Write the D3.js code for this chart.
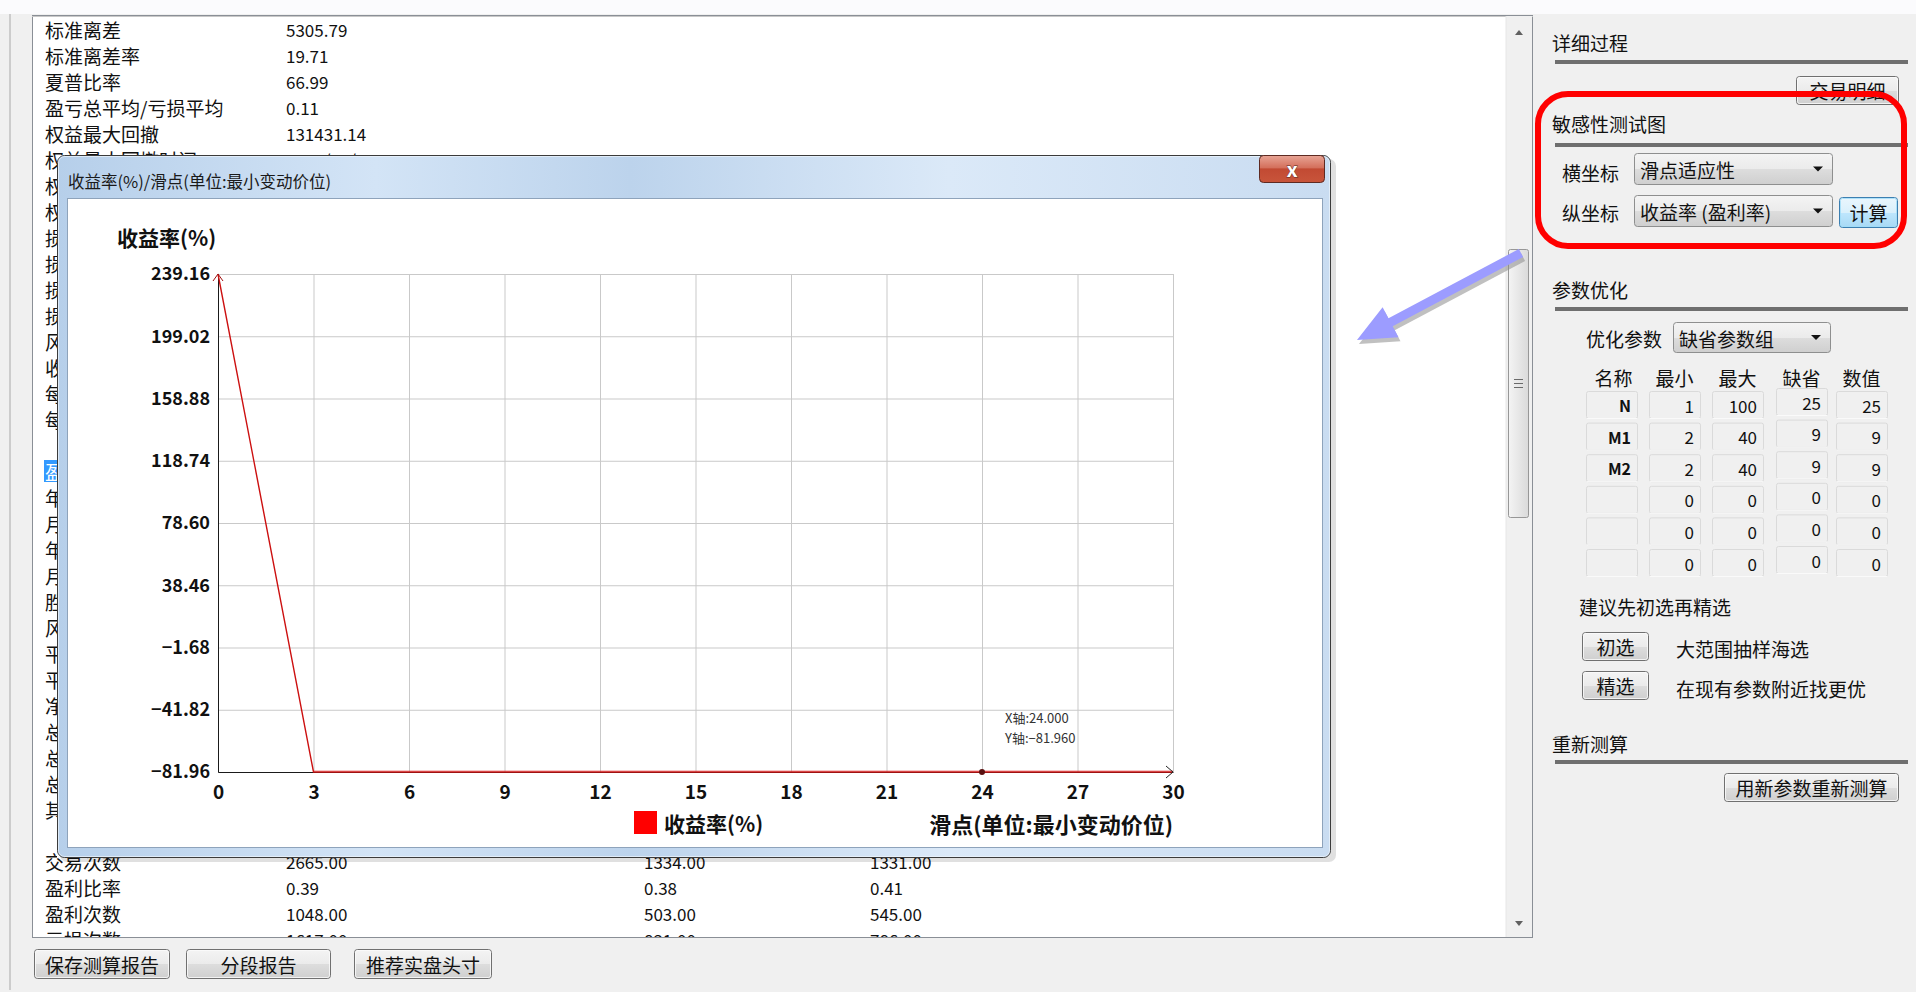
<!DOCTYPE html>
<html><head><meta charset="utf-8">
<script src="https://cdn.jsdelivr.net/npm/d3@7"></script>
<style>
body{margin:0;background:#f0f0f0;overflow:hidden}
svg{display:block}
text{font-family:"Noto Sans CJK SC","Noto Sans",sans-serif}
</style></head><body>
<svg id="c" width="1916" height="992"></svg>
<script>
// ---------- chart data ----------
const slipPoints = [0, 3, 6, 9, 12, 15, 18, 21, 24, 27, 30];
const yieldRate = [239.16, -81.96, -81.96, -81.96, -81.96, -81.96, -81.96, -81.96, -81.96, -81.96, -81.96];
const yTickValues = [239.16, 199.02, 158.88, 118.74, 78.60, 38.46, -1.68, -41.82, -81.96];
const xTickValues = [0, 3, 6, 9, 12, 15, 18, 21, 24, 27, 30];
const cursorX = [24];
const cursorY = [-81.96];
const chartTitle = "收益率(%)/滑点(单位:最小变动价位)";
const yTitle = "收益率(%)";
const xTitle = "滑点(单位:最小变动价位)";
const legendLabels = ["收益率(%)"];

// ---------- report panel text ----------
const reportLabels = ["标准离差","标准离差率","夏普比率","盈亏总平均/亏损平均","权益最大回撤","权益最大回撤时间"];
const reportValues = ["5305.79","19.71","66.99","0.11","131431.14","2013/06/24 09:15"];
const hiddenRowInitials = ["权","权","损","损","损","损","风","收","每","每","","盈","年","月","年","月","胜","风","平","平","净","总","总","总","其"];
const bottomLabels = ["交易次数","盈利比率","盈利次数","亏损次数"];
const bottomAll = ["2665.00","0.39","1048.00","1617.00"];
const bottomLong = ["1334.00","0.38","503.00","831.00"];
const bottomShort = ["1331.00","0.41","545.00","786.00"];
const footerButtons = ["保存测算报告","分段报告","推荐实盘头寸"];

// ---------- parameter table ----------
const paramHeaders = ["名称","最小","最大","缺省","数值"];
const paramNames = ["N","M1","M2","","",""];
const paramMin = [1,2,2,0,0,0];
const paramMax = [100,40,40,0,0,0];
const paramDefault = [25,9,9,0,0,0];
const paramValue = [25,9,9,0,0,0];

const svg = d3.select("#c");
const defs = svg.append("defs");

function grad(id, stops, vertical=true){
  const g = defs.append("linearGradient").attr("id", id)
    .attr("x1",0).attr("y1",0).attr("x2", vertical?0:1).attr("y2", vertical?1:0);
  stops.forEach(s=>g.append("stop").attr("offset",s[0]).attr("stop-color",s[1]));
}
grad("btn", [[0,"#f4f4f4"],[0.5,"#ebebeb"],[0.51,"#dddddd"],[1,"#cfcfcf"]]);
grad("btnBlue", [[0,"#eaf6fd"],[0.5,"#d9f0fc"],[0.51,"#bee6fd"],[1,"#a7d9f5"]]);
grad("frame", [[0,"#b6cfea"],[0.25,"#d3e4f6"],[0.45,"#bcd3ec"],[0.7,"#dbe9f8"],[1,"#c9dcf1"]], false);
grad("closeBtn", [[0,"#e8a596"],[0.45,"#d4705c"],[0.5,"#c24a33"],[1,"#c8553b"]]);
grad("thumb", [[0,"#f4f4f4"],[1,"#dadada"]], false);

// top strip
svg.append("rect").attr("x",0).attr("y",0).attr("width",1916).attr("height",14).attr("fill","#fbfbfd");
svg.append("line").attr("x1",10).attr("x2",10).attr("y1",14).attr("y2",990).attr("stroke","#a8a8a8");

// ---------- left report panel ----------
svg.append("rect").attr("x",32.5).attr("y",15.5).attr("width",1500).attr("height",922)
  .attr("fill","#ffffff").attr("stroke","#8a8f96");
svg.append("line").attr("x1",32).attr("x2",1533).attr("y1",16.5).attr("y2",16.5).attr("stroke","#c8c8c8");

const clip = defs.append("clipPath").attr("id","panelClip");
clip.append("rect").attr("x",33).attr("y",16).attr("width",1472).attr("height",139);
clip.append("rect").attr("x",33).attr("y",155).attr("width",24).attr("height",780);
clip.append("rect").attr("x",33).attr("y",858).attr("width",1472).attr("height",79);

const rowY = i => 29 + i*26;
const panelText = svg.append("g").attr("clip-path","url(#panelClip)");
reportLabels.forEach((t,i)=>{
  panelText.append("text").attr("x",45).attr("y",rowY(i)).attr("dominant-baseline","central")
    .attr("font-family", i===5 ? "Liberation Mono, Noto Sans CJK SC, monospace" : null)
    .attr("font-size",19).attr("fill","#111").text(t);
  panelText.append("text").attr("x",286).attr("y",rowY(i)).attr("dominant-baseline","central")
    .attr("font-family","Liberation Mono, DejaVu Sans Mono, monospace").attr("font-size",17).attr("fill","#111").text(reportValues[i]);
});
hiddenRowInitials.forEach((t,k)=>{
  const i = k + 6;
  if(!t) return;
  if(i===17){
    panelText.append("rect").attr("x",44).attr("y",rowY(i)-11).attr("width",60).attr("height",22).attr("fill","#3399ff");
    panelText.append("text").attr("x",45).attr("y",rowY(i)).attr("dominant-baseline","central")
      .attr("font-size",19).attr("fill","#ffffff").text(t);
  } else {
    panelText.append("text").attr("x",45).attr("y",rowY(i)).attr("dominant-baseline","central")
      .attr("font-size",19).attr("fill","#111").text(t);
  }
});
bottomLabels.forEach((t,k)=>{
  const i = 32 + k;
  panelText.append("text").attr("x",45).attr("y",rowY(i)).attr("dominant-baseline","central")
    .attr("font-size",19).attr("fill","#111").text(t);
  [[286,bottomAll],[644,bottomLong],[870,bottomShort]].forEach(([px,arr])=>{
    panelText.append("text").attr("x",px).attr("y",rowY(i)).attr("dominant-baseline","central")
      .attr("font-family","Liberation Mono, DejaVu Sans Mono, monospace").attr("font-size",17).attr("fill","#111").text(arr[k]);
  });
});

// scrollbar
svg.append("rect").attr("x",1506).attr("y",16).attr("width",26).attr("height",921).attr("fill","#f0f0f0");
svg.append("line").attr("x1",1506).attr("x2",1506).attr("y1",16).attr("y2",937).attr("stroke","#e6e6e6");
svg.append("path").attr("d","M1515,35 L1519,30 L1523,35 Z").attr("fill","#606060");
svg.append("path").attr("d","M1515,921 L1519,926 L1523,921 Z").attr("fill","#606060");
svg.append("rect").attr("x",1508.5).attr("y",249.5).attr("width",20).attr("height",268).attr("rx",2)
  .attr("fill","url(#thumb)").attr("stroke","#979797");
[379,383,387].forEach(yy=>svg.append("line").attr("x1",1514).attr("x2",1523).attr("y1",yy+.5).attr("y2",yy+.5).attr("stroke","#6a6a6a"));

// footer buttons
function button(x,y,w,h,label,opts={}){
  const g = svg.append("g");
  g.append("rect").attr("x",x+.5).attr("y",y+.5).attr("width",w).attr("height",h).attr("rx",3)
    .attr("fill",opts.blue?"url(#btnBlue)":"url(#btn)").attr("stroke",opts.blue?"#3c7fb1":"#707070");
  g.append("rect").attr("x",x+1.5).attr("y",y+1.5).attr("width",w-2).attr("height",h-2).attr("rx",2)
    .attr("fill","none").attr("stroke",opts.blue?"#9fdcf7":"#fbfbfb").attr("stroke-opacity",0.8);
  g.append("text").attr("x",x+w/2+0.5).attr("y",y+h/2+0.5).attr("text-anchor","middle").attr("dominant-baseline","central")
    .attr("font-size",opts.fs||19).attr("fill","#111").text(label);
  return g;
}
const footerX = [34,186,354], footerW = [135,144,137];
footerButtons.forEach((t,i)=>button(footerX[i],949,footerW[i],29,t));

// ---------- right panel ----------
function section(title, ty, lineY){
  svg.append("text").attr("x",1552).attr("y",ty).attr("dominant-baseline","central").attr("font-size",19).attr("fill","#111").text(title);
  svg.append("rect").attr("x",1555).attr("y",lineY-2).attr("width",353).attr("height",4).attr("fill","#6f6f6f");
}
section("详细过程",42,62);
button(1796,76,102,28,"交易明细");
section("敏感性测试图",123,145);
function combo(x,y,w,h,label){
  svg.append("rect").attr("x",x+.5).attr("y",y+.5).attr("width",w).attr("height",h).attr("rx",3)
    .attr("fill","url(#btn)").attr("stroke","#8e8f8f");
  svg.append("text").attr("x",x+6).attr("y",y+h/2+1).attr("dominant-baseline","central").attr("font-size",19).attr("fill","#111").text(label);
  const ax = x+w-14, ay = y+h/2;
  svg.append("path").attr("d",`M${ax-5},${ay-2} L${ax+5},${ay-2} L${ax},${ay+3} Z`).attr("fill","#111");
}
svg.append("text").attr("x",1562).attr("y",172).attr("dominant-baseline","central").attr("font-size",19).attr("fill","#111").text("横坐标");
combo(1634,153,198,31,"滑点适应性");
svg.append("text").attr("x",1562).attr("y",212).attr("dominant-baseline","central").attr("font-size",19).attr("fill","#111").text("纵坐标");
combo(1634,195,198,31,"收益率 (盈利率)");
button(1839,197,58,30,"计算",{blue:true});

section("参数优化",289,309);
svg.append("text").attr("x",1586).attr("y",338).attr("dominant-baseline","central").attr("font-size",19).attr("fill","#111").text("优化参数");
combo(1673,322,157,30,"缺省参数组");
const colX = [1586,1649,1712,1776,1836], colW = 51;
paramHeaders.forEach((h,j)=>svg.append("text").attr("x",colX[j]+colW/2+(j===0?2:0)).attr("y",377).attr("text-anchor","middle")
  .attr("dominant-baseline","central").attr("font-size",19).attr("fill","#111").text(h));
const cols = [paramNames, paramMin, paramMax, paramDefault, paramValue];
paramNames.forEach((_,i)=>{
  cols.forEach((arr,j)=>{
    const top = 391 + i*31.6 - (j===3?3:0);
    svg.append("rect").attr("x",colX[j]+.5).attr("y",top+.5).attr("width",colW).attr("height",27).attr("rx",2)
      .attr("fill","#f0f0f0").attr("stroke","#dadada");
    svg.append("line").attr("x1",colX[j]+1).attr("x2",colX[j]+colW).attr("y1",top+27.5).attr("y2",top+27.5).attr("stroke","#fafafa");
    const v = String(arr[i]);
    if(v!==""){
      svg.append("text").attr("x",colX[j]+colW-6).attr("y",top+14).attr("text-anchor","end").attr("dominant-baseline","central")
        .attr("font-family", j===0?"Liberation Mono, monospace":"Liberation Sans, Arial, sans-serif")
        .attr("font-weight", j===0?"bold":"normal")
        .attr("font-size", j===0?16:17).attr("fill","#111").text(v);
    }
  });
});
svg.append("text").attr("x",1579).attr("y",606).attr("dominant-baseline","central").attr("font-size",19).attr("fill","#111").text("建议先初选再精选");
button(1582,632,66,28,"初选");
svg.append("text").attr("x",1676).attr("y",648).attr("dominant-baseline","central").attr("font-size",19).attr("fill","#111").text("大范围抽样海选");
button(1582,671,66,28,"精选");
svg.append("text").attr("x",1676).attr("y",688).attr("dominant-baseline","central").attr("font-size",19).attr("fill","#111").text("在现有参数附近找更优");
section("重新测算",743,762);
button(1724,773,174,28,"用新参数重新测算");

// red highlight box
svg.append("rect").attr("x",1538).attr("y",94).attr("width",366).attr("height",152).attr("rx",30)
  .attr("fill","none").attr("stroke","#ff0000").attr("stroke-width",6);

// lavender arrow annotation
function arrowPath(x1,y1,x2,y2,headL,headW,shaftW){
  const dx=x2-x1, dy=y2-y1, L=Math.hypot(dx,dy), ux=dx/L, uy=dy/L, nx=-uy, ny=ux;
  const bx=x2-ux*headL, by=y2-uy*headL;
  const p=[[x1+nx*shaftW,y1+ny*shaftW],[bx+nx*shaftW,by+ny*shaftW],[bx+nx*headW,by+ny*headW],[x2,y2],
           [bx-nx*headW,by-ny*headW],[bx-nx*shaftW,by-ny*shaftW],[x1-nx*shaftW,y1-ny*shaftW]];
  return "M"+p.map(q=>q[0].toFixed(1)+","+q[1].toFixed(1)).join("L")+"Z";
}
const ap = arrowPath(1521,253,1357,340,38,17,4.5);
svg.append("path").attr("d",ap).attr("fill","#8c8c8c").attr("opacity",0.55).attr("transform","translate(2,4)");
svg.append("path").attr("d",ap).attr("fill","#9c9cff");

// ---------- dialog window ----------
const dlg = svg.append("g");
dlg.append("rect").attr("x",60).attr("y",159).attr("width",1276).attr("height",703).attr("rx",7).attr("fill","#000").attr("opacity",0.12);
dlg.append("rect").attr("x",57.5).attr("y",155.5).attr("width",1273).attr("height",702).attr("rx",7)
  .attr("fill","url(#frame)").attr("stroke","#3b3b3b");
dlg.append("rect").attr("x",58.5).attr("y",156.5).attr("width",1271).attr("height",700).attr("rx",6)
  .attr("fill","none").attr("stroke","#eef5fc").attr("stroke-opacity",0.7);
dlg.append("text").attr("x",68).attr("y",181).attr("dominant-baseline","central")
  .attr("font-family","Liberation Sans, Noto Sans CJK SC, sans-serif")
  .attr("font-size",16.5).attr("fill","#1a1a1a").text(chartTitle);
// close button
dlg.append("rect").attr("x",1259.5).attr("y",155.5).attr("width",65).attr("height",27).attr("rx",4)
  .attr("fill","url(#closeBtn)").attr("stroke","#5e2a22");
dlg.append("text").attr("x",1292).attr("y",168).attr("text-anchor","middle").attr("dominant-baseline","central")
  .attr("font-family","Liberation Sans, Arial").attr("font-weight","bold").attr("font-size",20)
  .attr("fill","#ffffff").attr("stroke","#5a2a22").attr("stroke-width",0.8).attr("paint-order","stroke").text("x");
// client area
dlg.append("rect").attr("x",67.5).attr("y",198.5).attr("width",1255).attr("height",649).attr("fill","#ffffff").attr("stroke","#8ea3bb");

// ---------- chart ----------
const plot = {left:218, right:1173, top:274, bottom:772};
const x = d3.scaleLinear().domain(d3.extent(xTickValues)).range([plot.left, plot.right]);
const y = d3.scaleLinear().domain(d3.extent(yTickValues)).range([plot.bottom, plot.top]);
const chart = dlg.append("g");

// grid
chart.append("g").attr("transform",`translate(0,${plot.bottom})`)
  .call(d3.axisBottom(x).tickValues(xTickValues).tickSize(-(plot.bottom-plot.top)).tickFormat(""))
  .call(g=>g.select(".domain").remove())
  .call(g=>g.selectAll("line").attr("stroke","#c9c9c9"));
chart.append("g").attr("transform",`translate(${plot.left},0)`)
  .call(d3.axisLeft(y).tickValues(yTickValues).tickSize(-(plot.right-plot.left)).tickFormat(""))
  .call(g=>g.select(".domain").remove())
  .call(g=>g.selectAll("line").attr("stroke","#c9c9c9"));

// axes
const yAxis = chart.append("g").attr("transform",`translate(${plot.left},0)`)
  .call(d3.axisLeft(y).tickValues(yTickValues).tickSize(0).tickPadding(8).tickFormat(d3.format(".2f")));
yAxis.select(".domain").attr("stroke","#1a1a1a");
yAxis.selectAll("text").attr("font-family","Liberation Sans, Arial, sans-serif").attr("font-weight","bold")
  .attr("font-size",18).attr("fill","#111");
const xAxis = chart.append("g").attr("transform",`translate(0,${plot.bottom})`)
  .call(d3.axisBottom(x).tickValues(xTickValues).tickSize(0).tickPadding(14).tickFormat(d3.format("d")));
xAxis.select(".domain").attr("stroke","#1a1a1a");
xAxis.selectAll("text").attr("font-family","Liberation Sans, Arial, sans-serif").attr("font-weight","bold")
  .attr("font-size",19).attr("fill","#111");

// data line
const pts = slipPoints.map((s,i)=>({x:s, y:yieldRate[i]}));
chart.append("path").datum(pts)
  .attr("d", d3.line().x(d=>x(d.x)).y(d=>y(d.y)))
  .attr("fill","none").attr("stroke","#cc1010").attr("stroke-width",1.4);
chart.append("path").datum(pts.slice(1))
  .attr("d", d3.line().x(d=>x(d.x)).y(d=>y(d.y)-1))
  .attr("fill","none").attr("stroke","#e04040").attr("stroke-width",1).attr("opacity",0.6);

// axis arrowheads
const yTop = y(d3.max(yTickValues));
chart.append("path").attr("d",`M${plot.left-5},${yTop+7} L${plot.left},${yTop} L${plot.left+5},${yTop+7}`)
  .attr("fill","none").attr("stroke","#a01010").attr("stroke-width",1);
const xEnd = x(d3.max(xTickValues));
chart.append("path").attr("d",`M${xEnd-7},${plot.bottom-6} L${xEnd},${plot.bottom} L${xEnd-7},${plot.bottom+6}`)
  .attr("fill","none").attr("stroke","#222").attr("stroke-width",1);

// cursor point + readout
chart.selectAll("circle.cur").data(cursorX).join("circle").attr("class","cur")
  .attr("cx",d=>x(d)).attr("cy",(d,i)=>y(cursorY[i])).attr("r",3).attr("fill","#5a1010");
chart.append("text").attr("x",x(cursorX[0])+23).attr("y",y(cursorY[0])-55).attr("dominant-baseline","central")
  .attr("font-family","Liberation Sans, Arial, sans-serif").attr("font-size",13).attr("fill","#333")
  .text("X轴:"+d3.format(".3f")(cursorX[0]));
chart.append("text").attr("x",x(cursorX[0])+23).attr("y",y(cursorY[0])-35).attr("dominant-baseline","central")
  .attr("font-family","Liberation Sans, Arial, sans-serif").attr("font-size",13).attr("fill","#333")
  .text("Y轴:"+d3.format(".3f")(cursorY[0]));

// titles
chart.append("text").attr("x",117).attr("y",237).attr("dominant-baseline","central")
  .attr("font-weight","bold").attr("font-size",21).attr("fill","#111").text(yTitle);
chart.append("text").attr("x",plot.right).attr("y",823).attr("text-anchor","end").attr("dominant-baseline","central")
  .attr("font-weight","bold").attr("font-size",22).attr("fill","#111").text(xTitle);
// legend
const leg = chart.selectAll("g.leg").data(legendLabels).join("g").attr("class","leg");
leg.append("rect").attr("x",634).attr("y",811).attr("width",23).attr("height",23).attr("fill","#ff0000");
leg.append("text").attr("x",664).attr("y",823).attr("dominant-baseline","central")
  .attr("font-weight","bold").attr("font-size",21).attr("fill","#111").text(d=>d);
</script>
</body></html>
